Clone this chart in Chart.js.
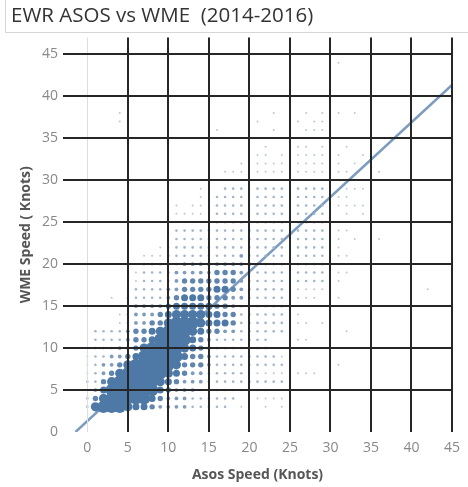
<!DOCTYPE html>
<html lang="en">
<head>
<meta charset="UTF-8">
<title>EWR ASOS vs WME</title>
<script src="https://cdn.jsdelivr.net/npm/chart.js@4.4.0/dist/chart.umd.min.js"></script>
<style>
  html, body { margin: 0; padding: 0; background: #fff; }
  #wrap { width: 468px; height: 487px; position: relative; }
</style>
</head>
<body>
<div id="wrap"><canvas id="myChart"></canvas></div>
<script>
// WME speed (knots) of each row of dots
var wmeSpeeds = [3,4,5,6,7,8,9,10,11,12,13,14,15,16,17,18,19,20,21,22,23,24,25,26,27,28,29,30,31,32,33,34,35,36,37,38];
// first ASOS speed (knots) of each row
var rowStart = [0,0,0,0,0,0,0,0,0,0,4,4,5,3,5,6,6,6,7,9,11,11,11,11,11,14,14,16,17,19,21,22,27,16,21,23];
// dot size class for asos = rowStart, rowStart+1, ... (0 = no obs, 7 = most obs)
var sizeRows = [
  [2,6,7,7,7,6,5,5,4,3,3,3,3,2,2,2,2,2,0,1,0,0,1,0,1],
  [2,4,6,7,7,7,7,7,5,4,3,3,3,2,2,2,2,2,2,0,0,1,1,1,1],
  [2,3,5,7,7,7,7,7,7,5,4,3,3,3,2,2,2,2,2,2,2,2,2,1,1],
  [2,2,4,6,7,7,7,7,7,6,5,4,3,3,3,2,2,2,2,2,2,2,2,2,2],
  [1,2,3,4,6,7,7,7,7,7,6,5,4,3,3,2,2,2,2,2,1,1,1,1,1,0,1,1,1],
  [1,2,3,3,4,6,7,7,7,7,7,6,4,4,4,3,2,2,2,2,2,2,2,2,2,0,0,0,0,0,0,1],
  [1,2,2,3,3,4,5,7,7,7,7,7,5,4,4,3,2,2,2,2,2,2,2,2,1],
  [1,2,2,2,3,3,4,6,7,7,7,7,6,5,4,3,2,2,2,2,2,2,2,1,1],
  [0,2,2,2,2,3,4,4,5,7,7,7,7,5,4,3,2,2,2,2,2,2,2,0,0,0,1,1],
  [0,2,2,2,2,3,4,4,5,6,7,7,7,6,5,4,4,3,3,2,2,2,2,2,2,0,0,0,0,0,0,0,1],
  [1,2,3,3,4,4,6,7,7,7,6,5,5,5,4,2,2,2,2,2,2,0,1,1,0,1],
  [1,2,3,3,3,4,5,6,6,6,6,5,5,4,4,2,2,2,2,2,2,0,1],
  [2,3,3,3,3,4,5,5,5,5,5,4,4,3,2,2,2,2,2,2,1,1],
  [1,0,2,2,2,2,2,3,4,5,5,5,4,4,4,3,3,2,2,2,2,2,0,1,1,1,0,0,1],
  [1,2,2,2,2,3,3,4,4,4,4,5,5,4,3,2,2,2,2,2,1,1,1,1,1],
  [1,2,2,2,2,3,4,4,4,4,4,4,4,3,2,2,2,2,2,1,2,2,2,2,0,1],
  [1,2,2,2,2,3,3,3,3,3,4,4,4,3,2,2,2,2,2,1,2,2,2,2,0,1,1],
  [1,2,2,2,2,2,3,3,3,3,3,3,3,3,3,2,2,2,2,2,2,2,2,2,0,1],
  [1,1,1,2,2,2,2,2,2,2,2,2,3,2,2,2,2,2,1,2,2,2,2,0,1,1],
  [1,1,2,2,2,2,2,2,2,2,2,2,2,2,2,2,1,2,2,2,2,0,1],
  [2,2,2,2,2,2,2,2,2,2,2,2,2,2,1,2,2,2,2,0,1,0,1],
  [2,2,2,2,2,2,2,2,2,2,2,2,2,2,1,2,2,2,2,0,1,1],
  [1,1,1,1,2,2,2,2,2,2,2,2,2,2,1,2,2,2,2,0,1],
  [1,1,1,1,1,2,2,2,2,1,2,2,2,2,1,2,2,2,2,0,0,1,0,1],
  [1,0,1,1,1,2,2,2,2,1,2,2,2,2,1,2,2,2,2,0,1,1,1,1],
  [1,1,2,2,2,2,1,2,2,2,2,1,2,2,2,2,0,1,1],
  [1,0,0,2,2,2,1,2,2,2,2,1,2,2,2,2,0,0,1,1,1],
  [1,1,1,1,1,1,1,1,1,1,1,1,1,1],
  [1,1,1,0,1,1,1,1,0,1,1,1,1,0,1,1],
  [1,0,1,1,1,1,0,1,1,1,1,0,1,0,1],
  [1,1,0,1,0,1,1,1,1,0,1,0,0,1],
  [1,0,0,0,1,1,0,1,0,0,1],
  [1,0,1],
  [1,0,0,0,0,0,0,1,0,0,0,1,1,1],
  [1,0,0,0,0,1,0,1,1],
  [1,0,0,0,1,0,1,0,1,0,1]
];
// lone observations
var strayAsos = [42, 36, 36, 4, 4, 31];
var strayWme = [17, 23, 31, 37, 38, 44];

// trend line
var trendSlope = 0.89;
var trendIntercept = 1.3;

var asosTicks = [0,5,10,15,20,25,30,35,40,45];
var wmeTicks = [0,5,10,15,20,25,30,35,40,45];

var dotRadius = [0, 1.0, 1.3, 1.9, 2.7, 3.5, 4.6, 6.2];
var dotColor = ['#fff', '#bcc8d7', '#a3b5cb', '#7f9bbd', '#6086b0', '#4e79a7', '#4e79a7', '#4e79a7'];

var points = [];
for (var r = 0; r < wmeSpeeds.length; r++) {
  for (var k = 0; k < sizeRows[r].length; k++) {
    if (sizeRows[r][k] > 0) points.push({x: rowStart[r] + k, y: wmeSpeeds[r], c: sizeRows[r][k]});
  }
}
for (var s = 0; s < strayAsos.length; s++) points.push({x: strayAsos[s], y: strayWme[s], c: 1});
points.sort(function (a, b) { return a.c - b.c; });

var xMin = -3, xMax = 45;
var trendStart = -trendIntercept / trendSlope;
var trend = [
  {x: trendStart, y: 0},
  {x: xMax, y: trendSlope * xMax + trendIntercept}
];

var titleBox = {
  id: 'titleBox',
  beforeDraw: function (chart) {
    var ctx = chart.ctx;
    ctx.save();
    ctx.strokeStyle = '#d6d6d6';
    ctx.lineWidth = 1;
    ctx.strokeRect(5.5, -1, 470, 33.5);
    ctx.restore();
  }
};

var gridDark = '#262626';

new Chart('myChart', {
  type: 'scatter',
  data: {
    datasets: [{
      type: 'line',
      data: trend,
      borderColor: '#7c9cbf',
      borderWidth: 2.5,
      pointRadius: 0,
      fill: false,
      order: 2
    }, {
      data: points,
      pointRadius: function (c) { return c.raw ? dotRadius[c.raw.c] : 0; },
      pointBackgroundColor: function (c) { return c.raw ? dotColor[c.raw.c] : '#4e79a7'; },
      pointBorderWidth: 0,
      pointHoverRadius: function (c) { return c.raw ? dotRadius[c.raw.c] : 0; },
      order: 1
    }]
  },
  options: {
    responsive: true,
    maintainAspectRatio: false,
    animation: false,
    devicePixelRatio: 1,
    events: [],
    layout: { padding: { left: 11, right: 10, top: 0, bottom: 0 } },
    plugins: {
      legend: { display: false },
      tooltip: { enabled: false },
      title: {
        display: true,
        text: 'EWR ASOS vs WME  (2014-2016)',
        align: 'start',
        color: '#333',
        font: { family: 'Open Sans', size: 20.5, weight: 'normal' },
        padding: { top: 4, bottom: 9 }
      }
    },
    scales: {
      x: {
        type: 'linear',
        min: xMin,
        max: xMax,
        afterBuildTicks: function (axis) { axis.ticks = asosTicks.map(function (v) { return {value: v}; }); },
        afterFit: function (axis) { axis.height = 55; },
        border: { display: false },
        grid: {
          z: 1,
          drawTicks: false,
          color: function (c) { return c.tick && c.tick.value === 0 ? '#dedede' : gridDark; },
          lineWidth: function (c) { return c.tick && c.tick.value === 0 ? 1 : 2; }
        },
        ticks: { color: '#888', padding: 8, font: { family: 'Open Sans', size: 14 } },
        title: {
          display: true,
          text: 'Asos Speed (Knots)',
          color: '#555',
          font: { family: 'Open Sans', size: 14, weight: 'bold' },
          padding: { top: 0, bottom: 4 }
        }
      },
      y: {
        type: 'linear',
        min: 0,
        max: 47,
        afterBuildTicks: function (axis) { axis.ticks = wmeTicks.map(function (v) { return {value: v}; }); },
        afterFit: function (axis) { axis.width = 52; },
        border: { display: false },
        grid: {
          z: 1,
          drawTicks: false,
          color: function (c) { return c.tick && c.tick.value === 0 ? 'rgba(0,0,0,0)' : gridDark; },
          lineWidth: 2
        },
        ticks: { color: '#888', padding: 5, font: { family: 'Open Sans', size: 14 } },
        title: {
          display: true,
          text: 'WME Speed ( Knots)',
          color: '#555',
          font: { family: 'Open Sans', size: 14, weight: 'bold' },
          padding: { top: 7, bottom: 0 }
        }
      }
    }
  },
  plugins: [titleBox]
});
</script>
</body>
</html>
